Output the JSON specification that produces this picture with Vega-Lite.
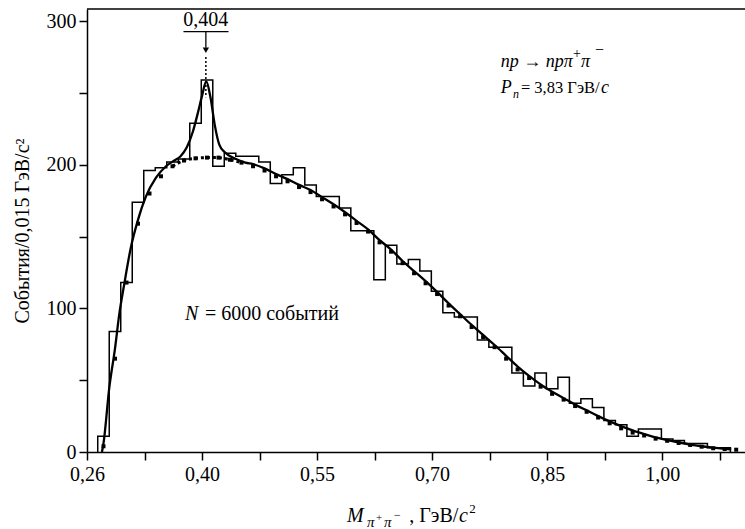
{
  "$schema": "https://vega.github.io/schema/vega-lite/v6.json",
  "width": 658,
  "height": 443,
  "autosize": {"type": "none"},
  "padding": {"left": 87, "top": 9, "right": 0, "bottom": 77},
  "background": "white",
  "config": {
    "view": {"stroke": null},
    "font": "'Liberation Serif', serif",
    "axis": {
      "grid": false, "domainColor": "#000", "domainWidth": 1.5, "tickColor": "#000", "tickWidth": 1.5, "tickSize": 8,
      "labelColor": "#000", "labelFont": "'Liberation Serif', serif", "labelFontSize": 20, "titleColor": "#000",
      "titleFont": "'Liberation Serif', serif", "titleFontWeight": "normal", "titleFontSize": 20, "labelOverlap": false, "labelFlush": false
    }
  },
  "datasets": {
    "hist": [
      {"i": 0, "x": 0.264, "y": 0}, {"i": 1, "x": 0.264, "y": 11}, {"i": 2, "x": 0.279, "y": 84}, {"i": 3, "x": 0.294, "y": 118},
      {"i": 4, "x": 0.309, "y": 174}, {"i": 5, "x": 0.324, "y": 196}, {"i": 6, "x": 0.339, "y": 198}, {"i": 7, "x": 0.354, "y": 202},
      {"i": 8, "x": 0.369, "y": 204}, {"i": 9, "x": 0.384, "y": 229}, {"i": 10, "x": 0.399, "y": 259}, {"i": 11, "x": 0.414, "y": 199},
      {"i": 12, "x": 0.429, "y": 208}, {"i": 13, "x": 0.444, "y": 206}, {"i": 14, "x": 0.459, "y": 206}, {"i": 15, "x": 0.474, "y": 202},
      {"i": 16, "x": 0.489, "y": 187}, {"i": 17, "x": 0.504, "y": 193}, {"i": 18, "x": 0.519, "y": 198}, {"i": 19, "x": 0.534, "y": 186},
      {"i": 20, "x": 0.549, "y": 178}, {"i": 21, "x": 0.564, "y": 178}, {"i": 22, "x": 0.579, "y": 170}, {"i": 23, "x": 0.594, "y": 154},
      {"i": 24, "x": 0.609, "y": 154}, {"i": 25, "x": 0.624, "y": 120}, {"i": 26, "x": 0.639, "y": 144}, {"i": 27, "x": 0.654, "y": 131},
      {"i": 28, "x": 0.669, "y": 134}, {"i": 29, "x": 0.684, "y": 126}, {"i": 30, "x": 0.699, "y": 112}, {"i": 31, "x": 0.714, "y": 97},
      {"i": 32, "x": 0.729, "y": 94}, {"i": 33, "x": 0.744, "y": 94}, {"i": 34, "x": 0.759, "y": 78}, {"i": 35, "x": 0.774, "y": 73},
      {"i": 36, "x": 0.789, "y": 73}, {"i": 37, "x": 0.804, "y": 55}, {"i": 38, "x": 0.819, "y": 46}, {"i": 39, "x": 0.834, "y": 55},
      {"i": 40, "x": 0.849, "y": 44}, {"i": 41, "x": 0.864, "y": 52}, {"i": 42, "x": 0.879, "y": 34}, {"i": 43, "x": 0.894, "y": 37},
      {"i": 44, "x": 0.909, "y": 31}, {"i": 45, "x": 0.924, "y": 22}, {"i": 46, "x": 0.939, "y": 19}, {"i": 47, "x": 0.954, "y": 11},
      {"i": 48, "x": 0.969, "y": 16}, {"i": 49, "x": 0.984, "y": 16}, {"i": 50, "x": 0.999, "y": 9}, {"i": 51, "x": 1.014, "y": 8},
      {"i": 52, "x": 1.029, "y": 6}, {"i": 53, "x": 1.044, "y": 6}, {"i": 54, "x": 1.059, "y": 3}, {"i": 55, "x": 1.074, "y": 3},
      {"i": 56, "x": 1.089, "y": 3}, {"i": 57, "x": 1.089, "y": 0}
    ],
    "bg": [
      {"x": 0.2715, "y": 4}, {"x": 0.2865, "y": 65}, {"x": 0.3015, "y": 118}, {"x": 0.3165, "y": 159}, {"x": 0.3315, "y": 180},
      {"x": 0.3465, "y": 192}, {"x": 0.3615, "y": 199}, {"x": 0.3765, "y": 203}, {"x": 0.3915, "y": 204.5}, {"x": 0.4065, "y": 205},
      {"x": 0.4215, "y": 205}, {"x": 0.4365, "y": 203.5}, {"x": 0.4515, "y": 201.5}, {"x": 0.4665, "y": 199}, {"x": 0.4815, "y": 196},
      {"x": 0.4965, "y": 192}, {"x": 0.5115, "y": 188.5}, {"x": 0.5265, "y": 184.5}, {"x": 0.5415, "y": 181}, {"x": 0.5565, "y": 176},
      {"x": 0.5715, "y": 171}, {"x": 0.5865, "y": 165.5}, {"x": 0.6015, "y": 159.5}, {"x": 0.6165, "y": 153.5}, {"x": 0.6315, "y": 146},
      {"x": 0.6465, "y": 139.5}, {"x": 0.6615, "y": 131.5}, {"x": 0.6765, "y": 124.5}, {"x": 0.6915, "y": 117.5}, {"x": 0.7065, "y": 110},
      {"x": 0.7215, "y": 102}, {"x": 0.7365, "y": 94.5}, {"x": 0.7515, "y": 87}, {"x": 0.7665, "y": 80}, {"x": 0.7815, "y": 73},
      {"x": 0.7965, "y": 65}, {"x": 0.8115, "y": 57.5}, {"x": 0.8265, "y": 51.5}, {"x": 0.8415, "y": 45.5}, {"x": 0.8565, "y": 40.5},
      {"x": 0.8715, "y": 36.5}, {"x": 0.8865, "y": 32}, {"x": 0.9015, "y": 28}, {"x": 0.9165, "y": 24}, {"x": 0.9315, "y": 20},
      {"x": 0.9465, "y": 16.5}, {"x": 0.9615, "y": 13.5}, {"x": 0.9765, "y": 11.5}, {"x": 0.9915, "y": 9.3}, {"x": 1.0065, "y": 7.8},
      {"x": 1.0215, "y": 6.3}, {"x": 1.0365, "y": 4.9}, {"x": 1.0515, "y": 3.7}, {"x": 1.0665, "y": 2.6}, {"x": 1.0815, "y": 2.1},
      {"x": 1.0965, "y": 1.6}
    ],
    "bgpeak": [
      {"x": 0.3615, "y": 199}, {"x": 0.3765, "y": 203}, {"x": 0.3915, "y": 204.5}, {"x": 0.4065, "y": 205},
      {"x": 0.4215, "y": 205}, {"x": 0.4365, "y": 203.5}, {"x": 0.4515, "y": 201.5}
    ],
    "fit": [
      {"x": 0.2695, "y": 0}, {"x": 0.2715, "y": 6}, {"x": 0.2791, "y": 45}, {"x": 0.2865, "y": 72}, {"x": 0.2921, "y": 96},
      {"x": 0.2986, "y": 117}, {"x": 0.3074, "y": 143}, {"x": 0.3161, "y": 161}, {"x": 0.3269, "y": 178}, {"x": 0.34, "y": 191},
      {"x": 0.353, "y": 199}, {"x": 0.364, "y": 203}, {"x": 0.372, "y": 206}, {"x": 0.38, "y": 212}, {"x": 0.388, "y": 223},
      {"x": 0.3945, "y": 236}, {"x": 0.4, "y": 248}, {"x": 0.4055, "y": 258}, {"x": 0.411, "y": 247}, {"x": 0.4165, "y": 228},
      {"x": 0.4225, "y": 214}, {"x": 0.43, "y": 208.5}, {"x": 0.4443, "y": 204}, {"x": 0.4565, "y": 201.5}, {"x": 0.4665, "y": 200.5},
      {"x": 0.4815, "y": 197.5}, {"x": 0.4965, "y": 193.5}, {"x": 0.5115, "y": 190}, {"x": 0.5265, "y": 186}, {"x": 0.5415, "y": 182.5},
      {"x": 0.5565, "y": 177.5}, {"x": 0.5715, "y": 172.5}, {"x": 0.5865, "y": 167}, {"x": 0.6015, "y": 161}, {"x": 0.6165, "y": 155},
      {"x": 0.6315, "y": 147.5}, {"x": 0.6465, "y": 141}, {"x": 0.6615, "y": 133}, {"x": 0.6765, "y": 126}, {"x": 0.6915, "y": 119},
      {"x": 0.7065, "y": 111.5}, {"x": 0.7215, "y": 103.5}, {"x": 0.7365, "y": 96}, {"x": 0.7515, "y": 88.5}, {"x": 0.7665, "y": 81.5},
      {"x": 0.7815, "y": 74.5}, {"x": 0.7965, "y": 67}, {"x": 0.8115, "y": 59.5}, {"x": 0.8265, "y": 53}, {"x": 0.8415, "y": 47},
      {"x": 0.8565, "y": 42}, {"x": 0.8715, "y": 37.5}, {"x": 0.8865, "y": 33}, {"x": 0.9015, "y": 29}, {"x": 0.9165, "y": 25},
      {"x": 0.9315, "y": 21.3}, {"x": 0.9465, "y": 18}, {"x": 0.9615, "y": 15}, {"x": 0.9765, "y": 12.5}, {"x": 0.9915, "y": 10.2},
      {"x": 1.0065, "y": 8.3}, {"x": 1.0215, "y": 6.7}, {"x": 1.0365, "y": 5.2}, {"x": 1.0515, "y": 4}, {"x": 1.0665, "y": 3},
      {"x": 1.0815, "y": 2.2}, {"x": 1.09, "y": 1.8}
    ],
    "roman": [
      {"x": 0.8158, "y": 249.8, "t": "= 3,83 ГэВ/", "s": 16.5},
      {"x": 0.4038, "y": 91.6, "t": "= 6000 событий", "s": 20},
      {"x": 0.6702, "y": -48.7, "t": ", ГэВ/", "s": 20},
      {"x": 0.7485, "y": -42.5, "t": "2", "s": 13},
      {"x": 0.8836, "y": 274.4, "t": "+", "s": 14},
      {"x": 0.9123, "y": 276.5, "t": "−", "s": 16},
      {"x": 0.6268, "y": -48, "t": "+", "s": 11},
      {"x": 0.6503, "y": -46.5, "t": "−", "s": 12}
    ],
    "italic": [
      {"x": 0.7894, "y": 267.9, "t": "np → npπ", "s": 18},
      {"x": 0.8941, "y": 267.9, "t": "π", "s": 18},
      {"x": 0.7894, "y": 249.8, "t": "P", "s": 18},
      {"x": 0.8054, "y": 246.5, "t": "n", "s": 12},
      {"x": 0.9201, "y": 249.8, "t": "c", "s": 18},
      {"x": 0.3778, "y": 91.6, "t": "N", "s": 20},
      {"x": 0.5891, "y": -48.7, "t": "M", "s": 20},
      {"x": 0.6151, "y": -52.2, "t": "π", "s": 15},
      {"x": 0.6372, "y": -52.2, "t": "π", "s": 15},
      {"x": 0.735, "y": -48.7, "t": "c", "s": 20}
    ]
  },
  "layer": [
    {
      "data": {"name": "hist"},
      "mark": {"type": "line", "interpolate": "step-after", "color": "#000", "strokeWidth": 1.5},
      "encoding": {
        "x": {
          "field": "x", "type": "quantitative",
          "scale": {"domain": [0.25, 1.108], "nice": false, "zero": false},
          "axis": {
            "title": null,
            "values": [0.25, 0.2875, 0.325, 0.3625, 0.4, 0.4375, 0.475, 0.5125, 0.55, 0.5875, 0.625, 0.6625, 0.7, 0.7375, 0.775, 0.8125, 0.85, 0.8875, 0.925, 0.9625, 1.0, 1.0375, 1.075],
            "labelExpr": "abs(datum.value-0.25)<0.001 ? '0,26' : (abs((datum.value-0.25)/0.15 - round((datum.value-0.25)/0.15)) < 0.01 ? replace(format(datum.value, '.2f'), '.', ',') : '')",
            "labelPadding": 4
          }
        },
        "y": {
          "field": "y", "type": "quantitative",
          "scale": {"domain": [0, 308.5], "nice": false},
          "axis": {
            "title": "События/0,015 ГэВ/c²",
            "values": [0, 50, 100, 150, 200, 250, 300],
            "labelExpr": "datum.value % 100 == 0 ? datum.value : ''",
            "labelPadding": 3,
            "titlePadding": 14
          }
        },
        "order": {"field": "i", "type": "quantitative"}
      }
    },
    {
      "data": {"name": "bgpeak"},
      "mark": {"type": "line", "color": "#000", "strokeWidth": 3, "strokeDash": [3, 3], "interpolate": "monotone"},
      "encoding": {"x": {"field": "x", "type": "quantitative"}, "y": {"field": "y", "type": "quantitative"}}
    },
    {
      "data": {"name": "bg"},
      "mark": {"type": "point", "shape": "square", "filled": true, "color": "#000", "size": 16, "opacity": 1},
      "encoding": {"x": {"field": "x", "type": "quantitative"}, "y": {"field": "y", "type": "quantitative"}}
    },
    {
      "data": {"name": "fit"},
      "mark": {"type": "line", "color": "#000", "strokeWidth": 2.3, "interpolate": "monotone"},
      "encoding": {"x": {"field": "x", "type": "quantitative"}, "y": {"field": "y", "type": "quantitative"}}
    },
    {
      "data": {"values": [{"y": 308.5}]},
      "mark": {"type": "rule", "color": "#000", "strokeWidth": 1.5},
      "encoding": {"y": {"field": "y", "type": "quantitative"}}
    },
    {
      "data": {"values": [{"x": 0.3758, "x2": 0.4345, "y": 292.8, "y2": 292.8}, {"x": 0.405, "x2": 0.405, "y": 292.8, "y2": 281.5}]},
      "mark": {"type": "rule", "color": "#000", "strokeWidth": 1.3},
      "encoding": {"x": {"field": "x", "type": "quantitative"}, "x2": {"field": "x2"}, "y": {"field": "y", "type": "quantitative"}, "y2": {"field": "y2"}}
    },
    {
      "data": {"values": [{"x": 0.405, "y": 275, "y2": 247}]},
      "mark": {"type": "rule", "color": "#000", "strokeWidth": 1.5, "strokeDash": [2, 2]},
      "encoding": {"x": {"field": "x", "type": "quantitative"}, "y": {"field": "y", "type": "quantitative"}, "y2": {"field": "y2"}}
    },
    {
      "data": {"values": [{"x": 0.405, "y": 279.8}]},
      "mark": {"type": "point", "shape": "triangle-down", "filled": true, "color": "#000", "size": 40, "opacity": 1},
      "encoding": {"x": {"field": "x", "type": "quantitative"}, "y": {"field": "y", "type": "quantitative"}}
    },
    {
      "data": {"values": [{"x": 0.405, "y": 296.5, "t": "0,404"}]},
      "mark": {"type": "text", "font": "'Liberation Serif', serif", "fontSize": 20, "color": "#000", "baseline": "alphabetic", "align": "center"},
      "encoding": {"x": {"field": "x", "type": "quantitative"}, "y": {"field": "y", "type": "quantitative"}, "text": {"field": "t"}}
    },
    {
      "data": {"name": "roman"},
      "mark": {"type": "text", "font": "'Liberation Serif', serif", "color": "#000", "baseline": "alphabetic", "align": "left"},
      "encoding": {
        "x": {"field": "x", "type": "quantitative"}, "y": {"field": "y", "type": "quantitative"},
        "text": {"field": "t"}, "size": {"field": "s", "type": "quantitative", "scale": null}
      }
    },
    {
      "data": {"name": "italic"},
      "mark": {"type": "text", "font": "'Liberation Serif', serif", "fontStyle": "italic", "color": "#000", "baseline": "alphabetic", "align": "left"},
      "encoding": {
        "x": {"field": "x", "type": "quantitative"}, "y": {"field": "y", "type": "quantitative"},
        "text": {"field": "t"}, "size": {"field": "s", "type": "quantitative", "scale": null}
      }
    }
  ]
}
